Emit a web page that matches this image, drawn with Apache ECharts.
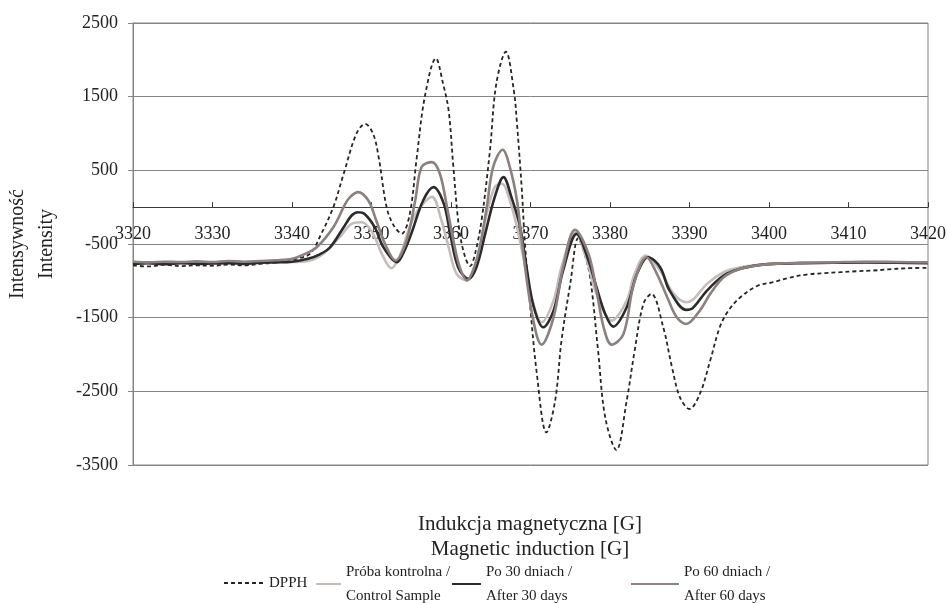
<!DOCTYPE html>
<html>
<head>
<meta charset="utf-8">
<script src="https://cdn.jsdelivr.net/npm/echarts@6/dist/echarts.min.js"></script>
<style>
  html, body { margin: 0; padding: 0; background: #fff; }
  #chart { width: 948px; height: 603px; }
</style>
</head>
<body>
<div id="chart"></div>
<script>
/* ------------------------------------------------------------------ */
/*                        EPR spectra (DPPH test)                      */
/* ------------------------------------------------------------------ */

const seriesNames = [
  'DPPH',
  'Próba kontrolna /\nControl Sample',
  'Po 30 dniach /\nAfter 30 days',
  'Po 60 dniach /\nAfter 60 days'
];

const xTicks = [3320, 3330, 3340, 3350, 3360, 3370, 3380, 3390, 3400, 3410, 3420];
const yTicks = [-3500, -2500, -1500, -500, 500, 1500, 2500];

// DPPH (dashed)
const dpphField = [
  3320, 3322, 3324, 3326, 3328, 3330, 3332, 3334, 3336, 3338, 3339.5, 3340.6,
  3342.3, 3343.6, 3345.2, 3346.5, 3348.1, 3349.2, 3350.2, 3350.9, 3351.9,
  3352.8, 3353.8, 3354.8, 3355.7, 3356.7, 3358.1, 3359.0, 3359.7, 3360.3,
  3361.0, 3361.7, 3362.4, 3363.1, 3363.9, 3364.9, 3365.7, 3366.9, 3367.9,
  3368.3, 3368.9, 3369.3, 3369.9, 3370.8, 3372.0, 3373.1, 3373.9, 3375.0,
  3376.0, 3376.7, 3377.5, 3378.5, 3379.4, 3380.8, 3382.1, 3383.1, 3384.2,
  3385.2, 3386.7, 3387.8, 3388.8, 3390.0, 3391.3, 3392.6, 3393.8, 3394.9,
  3396.4, 3398.5, 3400.5, 3402.5, 3404.7, 3407.0, 3408.9, 3411.0, 3413.1,
  3415.0, 3417.3, 3420
];
const dpphIntensity = [
  -790, -805, -780, -800, -790, -795, -780, -790, -770, -750, -720, -700,
  -630, -380, 0, 454, 997, 1130, 997, 680, 0,
  -250, -360, -100, 680, 1495, 2020, 1677, 1314, 544,
  -272, -650, -800, -600, -136, 770, 1677, 2110, 1586,
  1133, 250, -494, -1268, -2264, -3058, -2627, -1811, -1041,
  -420, -600, -951, -1947, -2854, -3297, -2627, -1947, -1313,
  -1177, -1631, -2174, -2582, -2740, -2536, -2083, -1631, -1404,
  -1223, -1070, -1019, -960, -915, -895, -883, -870, -860,
  -845, -829, -824
];

// Próba kontrolna / Control Sample
const controlField = [
  3320, 3322, 3324, 3326, 3328, 3330, 3332, 3334, 3336, 3338, 3340, 3342,
  3343.9, 3346.0, 3347.5, 3348.8, 3350.2, 3351.3, 3352.5, 3353.6, 3354.8,
  3355.8, 3357.6, 3358.8, 3359.7, 3360.7, 3362.0, 3363.4, 3364.5, 3365.5,
  3366.4, 3367.4, 3368.3, 3369.1, 3370.2, 3371.4, 3372.9, 3373.9, 3375.6,
  3377.1, 3378.3, 3380.2, 3382.1, 3383.1, 3384.5, 3386.3, 3388.0, 3389.6,
  3390.5, 3392.2, 3394.3, 3396.4, 3398.5, 3400.5, 3404, 3408, 3412, 3416, 3420
];
const controlIntensity = [
  -750, -760, -745, -755, -745, -750, -740, -750, -745, -740, -745, -730,
  -634, -408, -226, -204, -362, -634, -830, -650, -272,
  -50, 140, -181, -544, -906, -996, -680, -90, 272,
  318, 91, -272, -680, -1250, -1563, -1268, -815, -340,
  -724, -1177, -1540, -1268, -905, -656, -860, -1177, -1290,
  -1250, -1041, -883, -815, -785, -770, -760, -755, -745, -750, -755
];

// Po 30 dniach / After 30 days
const day30Field = [
  3320, 3322, 3324, 3326, 3328, 3330, 3332, 3334, 3336, 3338, 3340, 3342,
  3343.5, 3344.8, 3346.5, 3347.5, 3348.3, 3349.1, 3350.4, 3351.5, 3353.2,
  3354.1, 3355.0, 3356.5, 3357.8, 3359.1, 3359.9, 3360.9, 3362.2, 3363.2,
  3364.3, 3365.5, 3366.6, 3367.6, 3368.7, 3369.5, 3370.4, 3371.6, 3372.9,
  3374.1, 3375.8, 3377.3, 3378.3, 3379.4, 3380.4, 3382.1, 3383.4, 3384.8,
  3386.3, 3387.5, 3389.6, 3390.4, 3392.2, 3394.3, 3396.4, 3398.5, 3400.5,
  3404, 3408, 3412, 3416, 3420
];
const day30Intensity = [
  -770, -760, -775, -760, -770, -765, -760, -770, -755, -750, -740, -700,
  -640, -544, -272, -113, -68, -90, -272, -544, -747,
  -600, -362, 91, 272, 45, -362, -815, -973, -815,
  -362, 136, 408, 136, -272, -815, -1350, -1631, -1404,
  -860, -362, -724, -1087, -1449, -1621, -1359, -905, -680,
  -815, -1132, -1394, -1370, -1132, -928, -837, -790, -770,
  -760, -755, -750, -755, -760
];

// Po 60 dniach / After 60 days
const day60Field = [
  3320, 3322, 3324, 3326, 3328, 3330, 3332, 3334, 3336, 3338, 3340, 3341.5,
  3343.1, 3345.2, 3346.7, 3347.3, 3348.3, 3349.6, 3350.6, 3351.7, 3353.0,
  3354.4, 3355.5, 3356.3, 3357.6, 3358.6, 3359.5, 3360.3, 3361.1, 3362.0,
  3362.8, 3363.6, 3364.5, 3365.3, 3366.5, 3367.4, 3368.3, 3368.9, 3370.2,
  3371.4, 3372.9, 3374.1, 3375.6, 3377.3, 3378.3, 3379.2, 3380.2, 3381.7,
  3383.0, 3384.6, 3385.9, 3387.2, 3388.4, 3389.6, 3391.3, 3392.6, 3394.3,
  3396.4, 3398.5, 3400.5, 3404, 3408, 3412, 3416, 3420
];
const day60Intensity = [
  -740, -750, -740, -745, -735, -745, -730, -740, -730, -720, -700, -640,
  -544, -272, 45, 136, 204, 91, -181, -498, -724,
  -453, 91, 544, 612, 454, 0, -453, -815, -996,
  -850, -544, 0, 544, 780, 544, 91, -453, -1450,
  -1866, -1495, -815, -307, -634, -1132, -1631, -1866, -1721,
  -1041, -680, -905, -1223, -1495, -1585, -1404, -1177, -951,
  -837, -790, -770, -755, -750, -740, -745, -750
];

const zip = (xs, ys) => xs.map((x, i) => [x, ys[i]]);

const serifFont = "'Liberation Serif', 'DejaVu Serif', serif";
const textColor = '#222';
const gridColor = '#858585';
const gridBottom = 138;

const chart = echarts.init(document.getElementById('chart'), null, { renderer: 'canvas' });

const lineSeries = (name, data, color, width, type) => ({
  name,
  type: 'line',
  data,
  showSymbol: false,
  symbol: 'none',
  smooth: 0.35,
  lineStyle: { color, width, type },
  itemStyle: { color },
  emphasis: { disabled: true },
  animation: false
});

const legendBase = {
  orient: 'horizontal',
  itemHeight: 10,
  itemStyle: { opacity: 0 },
  textStyle: {
    fontFamily: serifFont,
    fontSize: 15,
    color: textColor,
    lineHeight: 24
  },
  itemGap: 0,
  selectedMode: false
};

chart.setOption({
  backgroundColor: '#fff',
  animation: false,
  grid: {
    left: 133,
    right: 20,
    top: 23,
    bottom: gridBottom,
    show: true,
    borderColor: gridColor,
    borderWidth: 1,
    containLabel: false,
    outerBoundsMode: 'none'
  },
  legend: [
    { ...legendBase, data: [seriesNames[0]], left: 218, top: 566, itemWidth: 40 },
    { ...legendBase, data: [seriesNames[1]], left: 310, top: 555, itemWidth: 25 },
    { ...legendBase, data: [seriesNames[2]], left: 446, top: 555, itemWidth: 29 },
    { ...legendBase, data: [seriesNames[3]], left: 625, top: 555, itemWidth: 48 }
  ],
  xAxis: {
    type: 'value',
    min: xTicks[0],
    max: xTicks[xTicks.length - 1],
    interval: xTicks[1] - xTicks[0],
    axisLine: { show: true, onZero: false, lineStyle: { color: '#3a3a3a', width: 1 } },
    axisTick: { show: true, inside: true, length: 5, lineStyle: { color: '#3a3a3a' } },
    axisLabel: {
      fontFamily: serifFont,
      fontSize: 18,
      color: textColor,
      margin: 18,
      showMaxLabel: true,
      showMinLabel: true,
      formatter: v => String(v)
    },
    splitLine: { show: false }
  },
  yAxis: {
    type: 'value',
    min: yTicks[0],
    max: yTicks[yTicks.length - 1],
    interval: yTicks[1] - yTicks[0],
    name: 'Intensywność\nIntensity',
    nameLocation: 'middle',
    nameGap: 72,
    nameRotate: 90,
    nameMoveOverlap: false,
    nameTextStyle: {
      fontFamily: serifFont,
      fontSize: 20,
      color: textColor,
      lineHeight: 29
    },
    axisLine: { show: true, lineStyle: { color: gridColor, width: 1 } },
    axisTick: { show: true, inside: false, length: 5, lineStyle: { color: gridColor } },
    axisLabel: {
      fontFamily: serifFont,
      fontSize: 18,
      color: textColor,
      margin: 15,
      formatter: v => String(v)
    },
    splitLine: { show: true, lineStyle: { color: gridColor, width: 1 } }
  },
  graphic: [
    {
      type: 'text',
      x: 530,
      y: 512,
      style: {
        text: 'Indukcja magnetyczna [G]\nMagnetic induction [G]',
        textAlign: 'center',
        fill: textColor,
        fontFamily: serifFont,
        fontSize: 21,
        lineHeight: 25
      }
    }
  ],
  series: [
    lineSeries(seriesNames[0], zip(dpphField, dpphIntensity), '#262626', 1.8, [4, 3]),
    lineSeries(seriesNames[1], zip(controlField, controlIntensity), '#c5bdba', 2.6, 'solid'),
    lineSeries(seriesNames[2], zip(day30Field, day30Intensity), '#2b2b2e', 2.6, 'solid'),
    lineSeries(seriesNames[3], zip(day60Field, day60Intensity), '#8c817f', 2.6, 'solid')
  ]
});

// put the x axis (line, ticks and labels) on the y = 0 level
const zeroY = chart.convertToPixel({ gridIndex: 0 }, [xTicks[0], 0])[1];
const bottomY = chart.getHeight() - gridBottom;
chart.setOption({ xAxis: { offset: zeroY - bottomY } });
</script>
</body>
</html>
